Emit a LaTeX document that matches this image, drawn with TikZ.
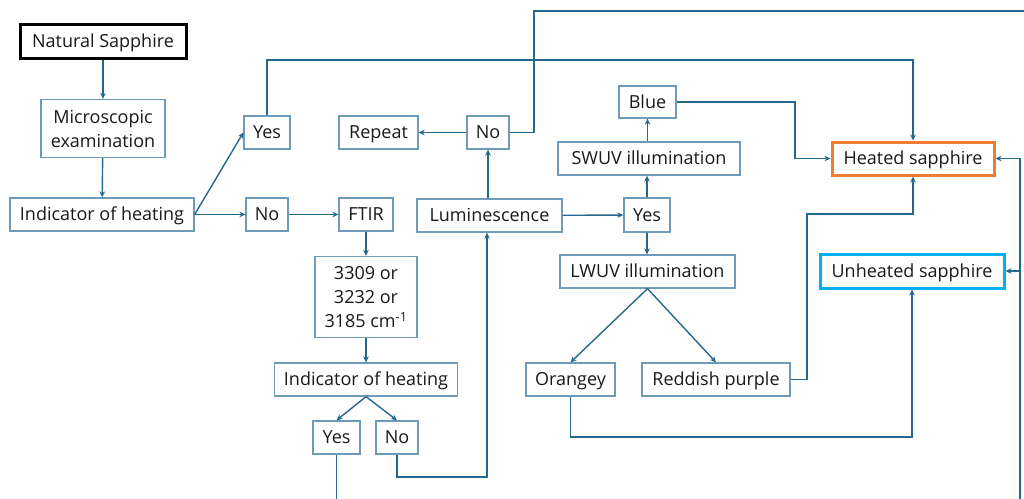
\documentclass[tikz,border=0pt]{standalone}
\usepackage{fontspec}
\setmainfont{Open Sans}
\usetikzlibrary{arrows.meta}
\definecolor{lineblue}{RGB}{36,104,140}
\definecolor{boxblue}{RGB}{110,155,185}
\definecolor{heatorange}{RGB}{237,125,49}
\definecolor{unheatcyan}{RGB}{0,176,240}
\tikzset{
  box/.style={draw=boxblue, line width=1.3pt, fill=white, inner sep=0pt, align=center,
    font=\fontsize{18}{24}\selectfont, text=black!90},
  sbox/.style={box, text height=15pt, text depth=2.5pt},
  conn/.style={draw=lineblue, line width=1.4pt, -{Stealth[length=6pt,width=5.5pt]}},
  plain/.style={draw=lineblue, line width=1.4pt},
}
\begin{document}
\begin{tikzpicture}[x=1pt,y=-1pt]
\useasboundingbox (0,0) rectangle (1024,498);
% nodes
\node[sbox, draw=black, line width=3pt, minimum width=166pt, minimum height=34pt] (nat) at (103,41) {Natural Sapphire};
\node[box, minimum width=124pt, minimum height=58pt] (micro) at (103,128.5) {Microscopic\\examination};
\node[sbox, minimum width=184pt, minimum height=33pt] (ind1) at (102,214.5) {Indicator of heating};
\node[sbox, minimum width=46pt, minimum height=33pt] (yes1) at (267,132.5) {Yes};
\node[sbox, minimum width=42pt, minimum height=33pt] (no1) at (267,214.5) {No};
\node[sbox, minimum width=54pt, minimum height=33pt] (ftir) at (366,214.5) {FTIR};
\node[box, minimum width=102pt, minimum height=81pt] (peaks) at (366,297) {3309 or\\3232 or\\3185 cm\textsuperscript{-1}};
\node[sbox, minimum width=183pt, minimum height=33pt] (ind2) at (366,379.5) {Indicator of heating};
\node[sbox, minimum width=47pt, minimum height=33pt] (yes2) at (336.5,437.5) {Yes};
\node[sbox, minimum width=42pt, minimum height=33pt] (no2) at (397,437.5) {No};
\node[sbox, minimum width=145pt, minimum height=33pt] (lum) at (489.5,215.5) {Luminescence};
\node[sbox, minimum width=42pt, minimum height=33pt] (no3) at (488,132.5) {No};
\node[sbox, minimum width=79pt, minimum height=33pt] (rep) at (378.5,132.5) {Repeat};
\node[sbox, minimum width=46pt, minimum height=34pt] (yes3) at (647,215) {Yes};
\node[sbox, minimum width=182pt, minimum height=33pt] (swuv) at (649,158.5) {SWUV illumination};
\node[sbox, minimum width=57pt, minimum height=32pt] (blue) at (647.5,102) {Blue};
\node[sbox, minimum width=175pt, minimum height=33pt] (lwuv) at (647.5,271.5) {LWUV illumination};
\node[sbox, minimum width=89pt, minimum height=33pt] (orange) at (570.5,379.5) {Orangey};
\node[sbox, minimum width=148pt, minimum height=33pt] (reddish) at (716,379.5) {Reddish purple};
\node[sbox, draw=heatorange, line width=3pt, minimum width=162pt, minimum height=33pt] (heated) at (913,158.5) {Heated sapphire};
\node[sbox, draw=unheatcyan, line width=3pt, minimum width=184pt, minimum height=34pt] (unheated) at (912,271) {Unheated sapphire};
% free ends
\coordinate (topright) at (1026,11);
\coordinate (rightbottom) at (1020,500);
\coordinate (yesbottom) at (336.5,500);
% connectors
\draw[conn] (nat) -- (micro);
\draw[conn] (micro) -- (ind1);
\draw[conn] (ind1.east) -- (yes1.west);
\draw[conn] (ind1.east) -- (no1.west);
\draw[conn] (yes1.north) |- (267,60) -| (heated.north);
\draw[conn] (no1) -- (ftir);
\draw[conn] (ftir) -- (peaks);
\draw[conn] (peaks) -- (ind2);
\draw[conn] (ind2.south) -- (yes2.north);
\draw[conn] (ind2.south) -- (no2.north);
\draw[conn] (no2.south) |- (487,477) -- (lum.south -| 487,0);
\draw[plain] (yes2.south) -- (yesbottom);
\draw[conn] (lum.north -| no3) -- (no3.south);
\draw[conn] (no3) -- (rep);
\draw[plain] (no3.east) -| (534,11) -- (topright);
\draw[conn] (lum) -- (yes3);
\draw[conn] (yes3) -- (swuv.south -| yes3);
\draw[conn] (swuv.north -| blue) -- (blue);
\draw[conn] (yes3) -- (lwuv.north -| yes3);
\draw[conn] (blue.east) -- (795,102) |- (heated.west);
\draw[conn] (lwuv.south) -- (orange.north);
\draw[conn] (lwuv.south) -- (reddish.north);
\draw[conn] (reddish.east) -| (807,214) -| (heated.south);
\draw[conn] (orange.south) |- (912,437) -- (unheated.south);
\draw[conn] (rightbottom) |- (heated.east);
\draw[conn] (1020,271) -- (unheated.east);
\end{tikzpicture}
\end{document}
